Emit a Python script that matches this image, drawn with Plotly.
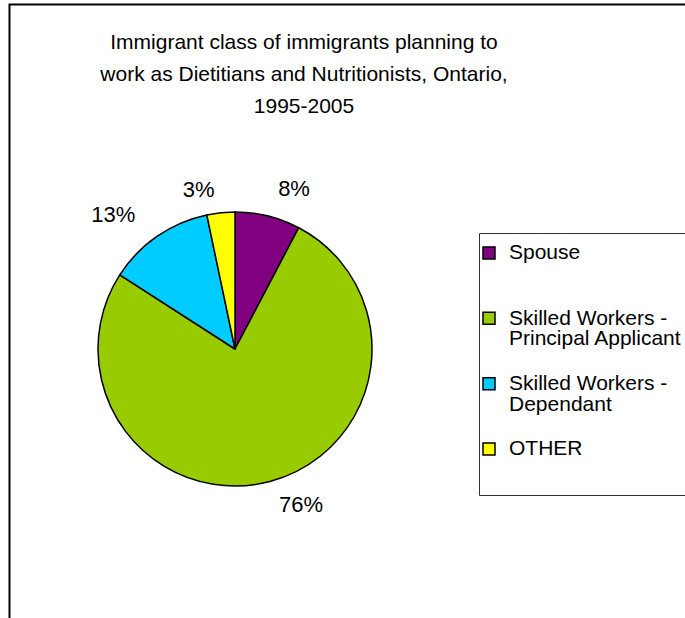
import plotly.graph_objects as go

# ---- data ----
CATEGORIES = ["Spouse", "Skilled Workers - Principal Applicant", "Skilled Workers - Dependant", "OTHER"]
LEGEND_LINES = [["Spouse"], ["Skilled Workers -", "Principal Applicant"], ["Skilled Workers -", "Dependant"], ["OTHER"]]
SHARES = [7.7, 76.4, 12.6, 3.3]
COLORS = ["#800080", "#99CC00", "#00CCFF", "#FFFF00"]
TITLE_LINES = ["Immigrant class of immigrants planning to",
               "work as Dietitians and Nutritionists, Ontario,",
               "1995-2005"]

W, H = 685, 618
FONT = "Liberation Sans, Arial, sans-serif"
NB = "\u00a0"


def span(t, size, extra=""):
    return f'<span style="font-size:{size}px{extra}">{t}</span>'


def legend_text(lines, total=3):
    parts = [span(l, 21) for l in lines]
    parts += [" "] * (total - len(lines))
    return "<br>".join(parts)


legend_labels = [legend_text(l, 3 if i < 3 else 2) for i, l in enumerate(LEGEND_LINES)]

# outside labels pushed a little further from the rim (Excel-like spacing)
PCT = span("%{percent:.0%}", 22, ";color:black;fill-opacity:1")
text_templates = [
    PCT + "<br>" + NB,                 # Spouse (top right)
    NB + "<br>" + PCT,                 # Principal applicant (bottom)
    PCT + NB * 3 + "<br>" + NB,        # Dependant (upper left)
    PCT,                               # Other (top)
]

fig = go.Figure(go.Pie(
    labels=legend_labels,
    values=SHARES,
    customdata=CATEGORIES,
    sort=False,
    direction="clockwise",
    rotation=0,
    marker=dict(colors=COLORS, line=dict(color="black", width=1.5)),
    texttemplate=text_templates,
    textposition="outside",
    textfont=dict(family=FONT, size=14, color="black"),
    outsidetextfont=dict(family=FONT, size=14, color="rgba(0,0,0,0)"),
    hovertemplate="%{customdata}: %{percent:.0%}<extra></extra>",
    domain=dict(x=[98 / W, 372 / W], y=[1 - 486 / H, 1 - 212 / H]),
))

fig.update_layout(
    width=W, height=H,
    margin=dict(l=0, r=0, t=0, b=0, autoexpand=False),
    paper_bgcolor="white",
    plot_bgcolor="white",
    font=dict(family=FONT, color="black"),
    title=dict(
        text="<br>".join(span(t, 21) for t in TITLE_LINES),
        font=dict(family=FONT, size=24.6, color="black"),
        x=304 / W, xanchor="center", xref="container",
        y=1 - 49 / H, yanchor="middle", yref="container",
    ),
    showlegend=True,
    legend=dict(
        x=469 / W, xanchor="left", y=1 - 236 / H, yanchor="top",
        font=dict(family=FONT, size=16, color="black"),
        bgcolor="rgba(0,0,0,0)", borderwidth=0, valign="top",
        traceorder="normal",
    ),
    shapes=[
        dict(type="rect", xref="paper", yref="paper",
             x0=9.5 / W, x1=1.05, y0=-0.05, y1=1 - 4.5 / H,
             line=dict(color="black", width=2), fillcolor="rgba(0,0,0,0)", layer="below"),
        dict(type="rect", xref="paper", yref="paper",
             x0=479.5 / W, x1=1.05, y0=1 - 495.5 / H, y1=1 - 233.5 / H,
             line=dict(color="#333333", width=1), fillcolor="rgba(0,0,0,0)", layer="below"),
    ],
)

fig.write_html(
    "out.html",
    config={"displayModeBar": False},
    post_script="document.body.style.margin='0';document.body.style.overflow='hidden';",
)
